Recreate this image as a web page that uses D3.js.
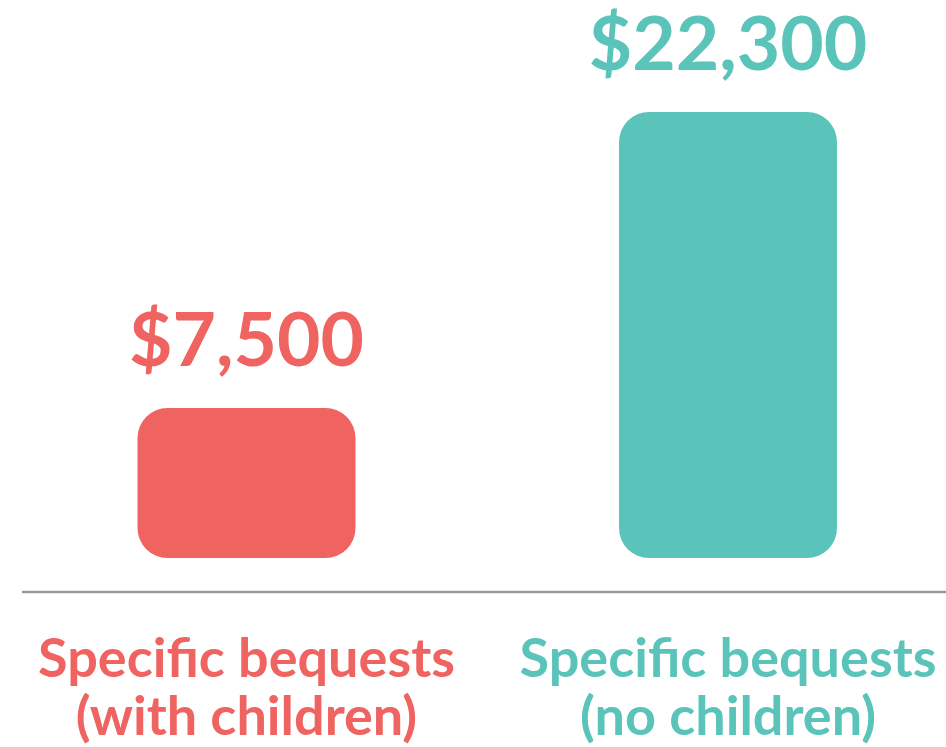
<!DOCTYPE html>
<html>
<head>
<meta charset="utf-8">
<script src="https://cdn.jsdelivr.net/npm/d3@7"></script>
<style>
  body { margin: 0; background: #fff; }
  svg { display: block; font-family: Lato, "Open Sans", sans-serif; }
</style>
</head>
<body>
<svg id="vis" width="946" height="747"></svg>
<script>
const svg = d3.select('#vis');

// data
const categories = ["with", "no"];
const values = [7500, 22300];
const valueLabels = ["$7,500", "$22,300"];
const labelLines = [
    ["Specific bequests", "(with children)"],
    ["Specific bequests", "(no children)"]
];
const colors = ["#ef6461", "#5bc4ba"];

const barWidth = 218;

const x = d3.scalePoint()
    .domain(categories)
    .range([246.5, 728]);

const y = d3.scaleLinear()
    .domain([0, 22300])
    .range([558, 112]);

// bars
svg.selectAll(".bar")
    .data(values)
    .enter().append("rect")
    .attr("class", "bar")
    .attr("x", function (d, i) { return x(categories[i]) - barWidth / 2; })
    .attr("y", function (d) { return y(d); })
    .attr("width", barWidth)
    .attr("height", function (d) { return y(0) - y(d); })
    .attr("rx", 30)
    .attr("fill", function (d, i) { return colors[i]; });

// value labels
svg.selectAll(".value")
    .data(values)
    .enter().append("text")
    .attr("class", "value")
    .attr("x", function (d, i) { return x(categories[i]); })
    .attr("y", function (d) { return y(d) - 42; })
    .attr("text-anchor", "middle")
    .attr("font-size", 75)
    .attr("font-weight", 700)
    .attr("fill", function (d, i) { return colors[i]; })
    .text(function (d, i) { return valueLabels[i]; });

// baseline
svg.append("line")
    .attr("x1", 22)
    .attr("x2", 946)
    .attr("y1", 592)
    .attr("y2", 592)
    .attr("stroke", "#9a9a9a")
    .attr("stroke-width", 2.5);

// category labels
const cat = svg.selectAll(".cat")
    .data(labelLines)
    .enter().append("text")
    .attr("class", "cat")
    .attr("text-anchor", "middle")
    .attr("font-size", 54)
    .attr("font-weight", 700)
    .attr("fill", function (d, i) { return colors[i]; });

cat.selectAll("tspan")
    .data(function (d, i) { return d.map(function (t) { return {t: t, i: i}; }); })
    .enter().append("tspan")
    .attr("x", function (d) { return x(categories[d.i]); })
    .attr("y", function (d, j) { return 677 + j * 58; })
    .text(function (d) { return d.t; });
</script>
</body>
</html>
